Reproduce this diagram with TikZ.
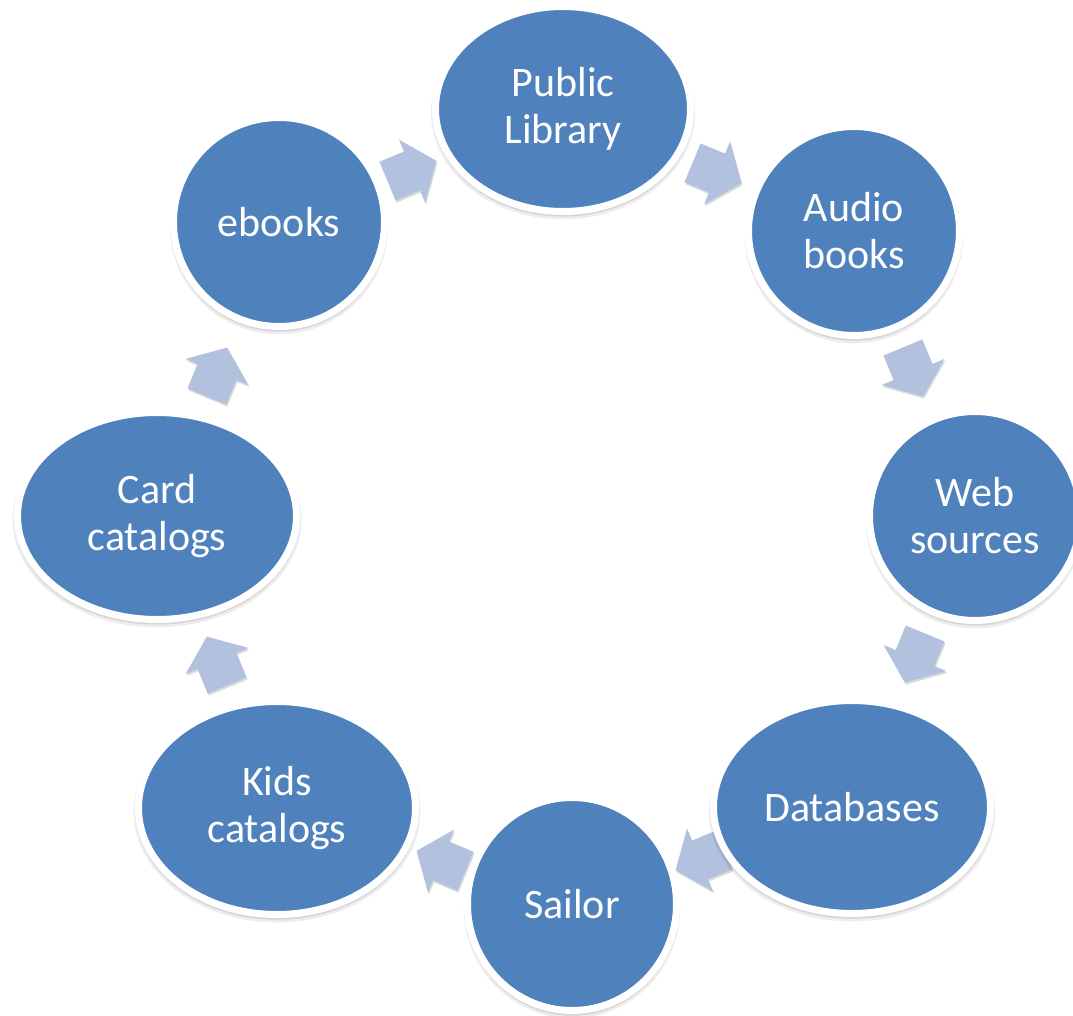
\documentclass[tikz,border=0pt]{standalone}
\usepackage{fontspec}
\setmainfont{Carlito}
\usetikzlibrary{shapes.geometric,shadows}
\definecolor{nodeblue}{RGB}{79,129,189}
\definecolor{arrowblue}{RGB}{178,194,222}
\tikzset{
  cyclenode/.style={ellipse, fill=nodeblue, draw=white, line width=7pt, inner sep=0pt,
    text=white, align=center, font=\fontsize{42}{47}\selectfont,
    general shadow={shadow scale=1.035, shadow yshift=-4pt, opacity=0.07, fill=black},
    general shadow={shadow scale=1.02, shadow yshift=-3pt, opacity=0.10, fill=black},
    general shadow={shadow scale=1.008, shadow yshift=-2pt, opacity=0.14, fill=black}},
  cyclearrow/.style={fill=arrowblue,
    drop shadow={shadow xshift=1pt, shadow yshift=-2pt, opacity=0.15, fill=black}}
}
\newcommand{\cyclearrowat}[3]{%
  \begin{scope}[shift={(#1,#2)}, rotate=#3]
    \path[cyclearrow] (-26.5,-21) -- (0,-21) -- (0,-34) -- (26.5,0) -- (0,34) -- (0,21) -- (-26.5,21) -- cycle;
  \end{scope}}
\begin{document}
\begin{tikzpicture}[x=1pt,y=-1pt]
\useasboundingbox (0,0) rectangle (1073,1016);
% arrows (drawn beneath the nodes)
\cyclearrowat{412}{171}{22.5}
\cyclearrowat{717}{173}{-22.5}
\cyclearrowat{913}{372}{-67.5}
\cyclearrowat{915}{658}{-112.5}
\cyclearrowat{700}{860}{-157.5}
\cyclearrowat{441}{861}{157.5}
\cyclearrowat{217}{661}{112.5}
\cyclearrowat{217}{372}{67.5}
% nodes
\node[cyclenode, minimum width=255pt, minimum height=205pt] (pub) at (563,109) {Public\\Library};
\node[cyclenode, minimum width=211pt, minimum height=209pt] (audio) at (854,231) {Audio\\books};
\node[cyclenode, minimum width=211pt, minimum height=209pt] (web) at (975,516) {Web\\sources};
\node[cyclenode, minimum width=277pt, minimum height=213pt] (db) at (852,807) {Databases};
\node[cyclenode, minimum width=209pt, minimum height=213pt] (sailor) at (572,904) {Sailor};
\node[cyclenode, minimum width=277pt, minimum height=213pt] (kids) at (277,808) {Kids\\catalogs};
\node[cyclenode, minimum width=279pt, minimum height=207pt] (card) at (157,516) {Card\\catalogs};
\node[cyclenode, minimum width=211pt, minimum height=209pt] (ebooks) at (279,222) {ebooks};
\end{tikzpicture}
\end{document}
